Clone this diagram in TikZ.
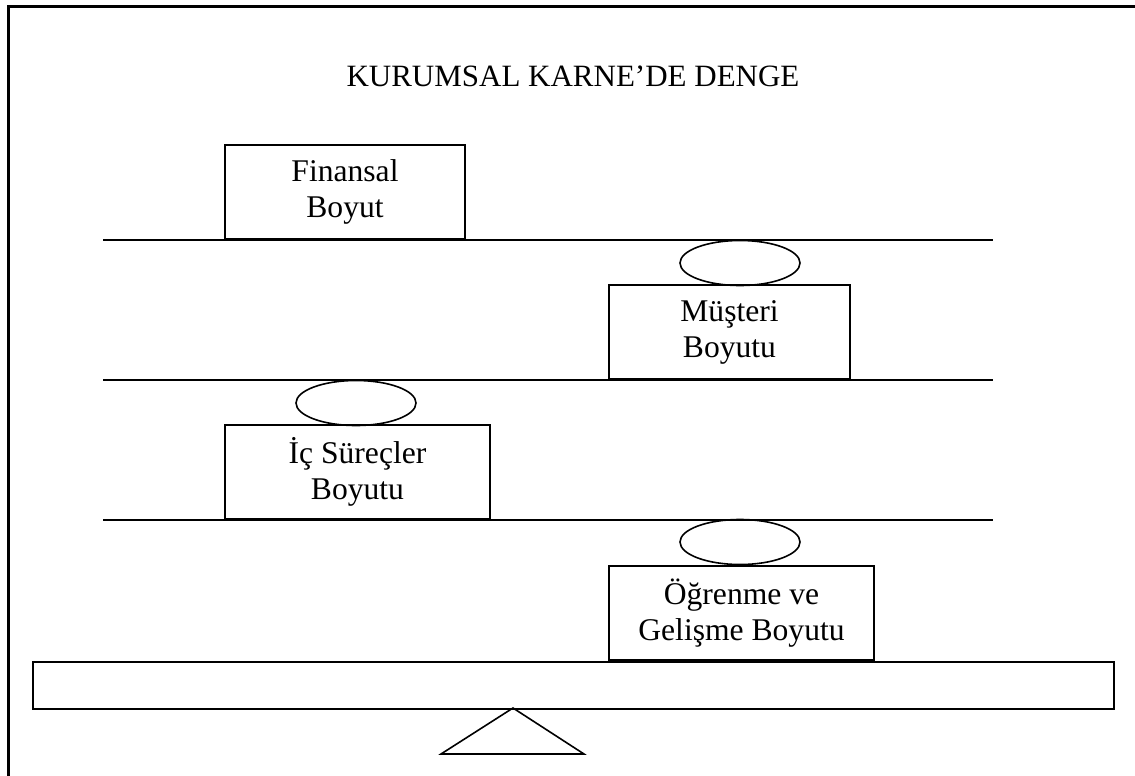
\documentclass[tikz,border=0pt]{standalone}
\usepackage{fontspec}
\setmainfont{Liberation Serif}
\usetikzlibrary{shapes.geometric}
\tikzset{
  boyut/.style={draw,line width=1pt,align=center,anchor=south west,minimum height=47pt,inner sep=0pt,font=\fontsize{15.8}{18}\selectfont},
  denge/.style={draw,line width=0.8pt,ellipse,minimum width=60pt,minimum height=22.5pt,inner sep=0pt},
  raf/.style={line width=1pt}
}

\begin{document}
\begin{tikzpicture}[x=0.5pt,y=-0.5pt]
  \useasboundingbox (0,0) rectangle (1135,776);
  \draw[line width=1.5pt] (1135,6) -- (8,6) -- (8,776);
  \node[anchor=base,font=\fontsize{15.5}{18}\selectfont] (baslik) at (573,86) {KURUMSAL KARNE’DE DENGE};
  \foreach \y in {240,380,520} \draw[raf] (103,\y) -- (993,\y);
  \node[boyut,minimum width=120pt] (finansal) at (224,240) {Finansal\\Boyut};
  \node[denge] (denge1) at (740,263) {}; \node[boyut,minimum width=120.5pt] (musteri) at (608,380) {Müşteri\\Boyutu};
  \node[denge] (denge2) at (356,403) {}; \node[boyut,minimum width=132.5pt] (icsurec) at (224,520) {İç Süreçler\\Boyutu};
  \node[denge] (denge3) at (740,542) {}; \node[boyut,minimum width=132.5pt] (ogrenme) at (608,661) {Öğrenme ve\\Gelişme Boyutu};
  \node[draw,line width=1pt,anchor=north west,minimum width=540.5pt,minimum height=23.5pt] (kiris) at (32,661) {};
  \draw[line width=0.8pt] (513,708) -- (441,754) -- (584,754) -- cycle;
\end{tikzpicture}
\end{document}
